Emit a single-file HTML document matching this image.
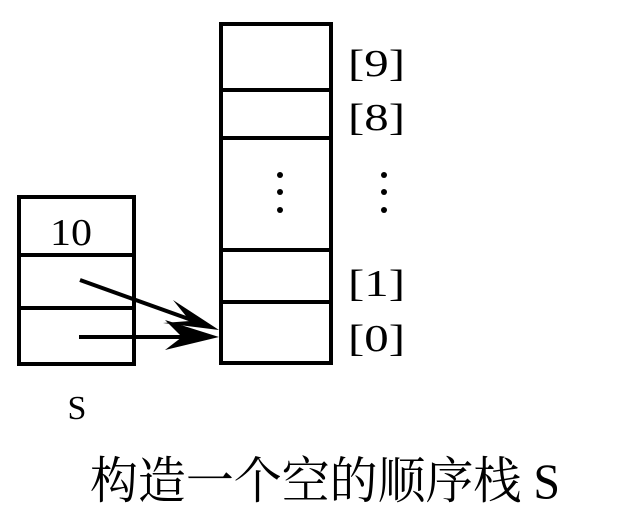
<!DOCTYPE html>
<html><head><meta charset="utf-8"><style>html,body{margin:0;padding:0;background:#fff}</style></head>
<body>
<svg width="626" height="507" viewBox="0 0 626 507" xmlns="http://www.w3.org/2000/svg">
<g fill="none" stroke="#000" stroke-width="4">
<rect x="19" y="197" width="115" height="167"/>
<line x1="17" y1="255" x2="134" y2="255"/>
<line x1="17" y1="308" x2="134" y2="308"/>
<rect x="221" y="24" width="110" height="339"/>
<line x1="221" y1="90" x2="331" y2="90"/>
<line x1="221" y1="138" x2="331" y2="138"/>
<line x1="221" y1="250" x2="331" y2="250"/>
<line x1="221" y1="302" x2="331" y2="302"/>
<line x1="80" y1="280" x2="200" y2="323"/>
<line x1="79" y1="337" x2="200" y2="337"/>
</g>
<path d="M219,330 L173,300 L190,321 L163,323 Z" fill="#000"/>
<path d="M219,337 L165,320 L182,337 L165,350 Z" fill="#000"/>
<g fill="#000">
<circle cx="280" cy="175" r="3"/><circle cx="280" cy="192" r="3"/><circle cx="280" cy="210" r="3"/>
<circle cx="384" cy="175" r="3"/><circle cx="384" cy="192" r="3"/><circle cx="384" cy="210" r="3"/>
</g>
<g font-family="Liberation Serif, serif" font-size="38" fill="#000">
<text x="50" y="245" textLength="42" lengthAdjust="spacingAndGlyphs">10</text>
<text x="348" y="76" textLength="57" lengthAdjust="spacingAndGlyphs">[9]</text>
<text x="348" y="130" textLength="57" lengthAdjust="spacingAndGlyphs">[8]</text>
<text x="348" y="296" textLength="57" lengthAdjust="spacingAndGlyphs">[1]</text>
<text x="348" y="351" textLength="57" lengthAdjust="spacingAndGlyphs">[0]</text>
<text x="77" y="419" text-anchor="middle" font-size="34">S</text>
</g>
<text x="90" y="498" font-family="Liberation Serif, 'Noto Serif CJK SC', serif" font-size="50" textLength="470" lengthAdjust="spacingAndGlyphs" fill="#000">构造一个空的顺序栈 S</text>
</svg>
</body></html>
